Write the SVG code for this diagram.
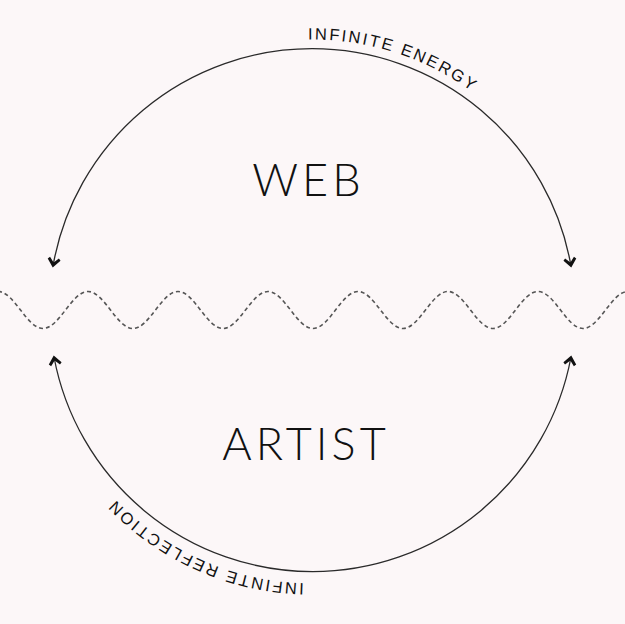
<svg xmlns="http://www.w3.org/2000/svg" width="625" height="624" viewBox="0 0 625 624">
<style>
.arc{fill:none;stroke:#2a2a2a;stroke-width:1.3}
.wave{fill:none;stroke:#555;stroke-width:1.6;stroke-dasharray:4 3}
.big{font-family:Lato,"Liberation Sans",sans-serif;font-weight:300;font-size:45px;letter-spacing:4px;fill:#111}
.small{font-family:"Liberation Sans",Arial,sans-serif;font-size:16.5px;letter-spacing:2.2px;fill:#111}
</style>
<defs>
<marker id="head" markerUnits="userSpaceOnUse" markerWidth="24" markerHeight="24" viewBox="-12 -12 24 24" refX="0" refY="0" orient="auto-start-reverse">
<path d="M1.5,0 L-6.5,-6.5 L-8.5,-4.5 L-3.5,0 L-8.5,4.5 L-6.5,6.5 Z" fill="#111"/>
</marker>
<path id="topArc" d="M40,311.5 A272,272 0 0 1 584,311.5"/>
<path id="botArc" d="M584,311.5 A272,272 0 0 1 40,311.5"/>
</defs>
<rect width="625" height="624" fill="#fcf7f8"/>
<g id="connectors">
<path class="arc" d="M53,266 A263,263 0 0 1 571,266" marker-start="url(#head)" marker-end="url(#head)"/>
<path class="arc" d="M54,357 A263,263 0 0 0 571,357" marker-start="url(#head)" marker-end="url(#head)"/>
<path id="divider" class="wave" d="M-2,291.5 C14.35,291.5 26.65,328.5 43,328.5 S71.65,291.5 88,291.5 S116.65,328.5 133,328.5 S161.65,291.5 178,291.5 S206.65,328.5 223,328.5 S251.65,291.5 268,291.5 S296.65,328.5 313,328.5 S341.65,291.5 358,291.5 S386.65,328.5 403,328.5 S431.65,291.5 448,291.5 S476.65,328.5 493,328.5 S521.65,291.5 538,291.5 S566.65,328.5 583,328.5 S611.65,291.5 628,291.5"/>
<text class="small"><textPath href="#topArc" startOffset="423">INFINITE ENERGY</textPath></text>
<text class="small"><textPath href="#botArc" startOffset="435">INFINTE REFLECTION</textPath></text>
</g>
<g id="web">
<text class="big" x="308.5" y="196" text-anchor="middle">WEB</text>
</g>
<g id="artist">
<text class="big" x="306" y="460" text-anchor="middle">ARTIST</text>
</g>
</svg>
